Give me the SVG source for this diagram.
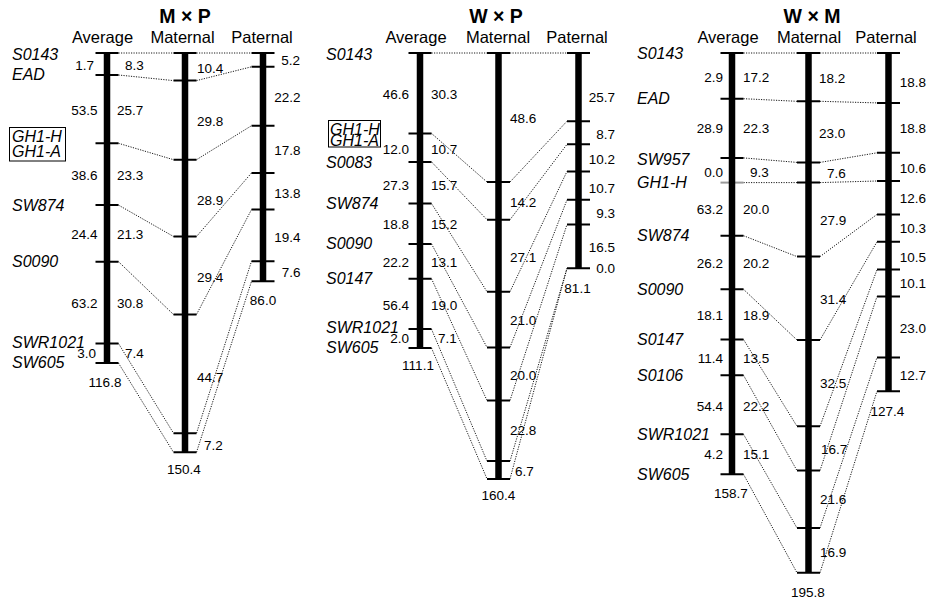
<svg xmlns="http://www.w3.org/2000/svg" width="930" height="602" viewBox="0 0 930 602">
<style>
text{font-family:"Liberation Sans",Arial,sans-serif;fill:#000}
.t{font-size:19.5px;font-weight:bold;text-anchor:middle}
.h{font-size:16.5px;text-anchor:middle}
.m{font-size:16px;font-style:italic}
.n{font-size:13.5px}
.e{text-anchor:end}
.c{text-anchor:middle}
.bar{fill:#000}
.tk{stroke:#000;stroke-width:2;fill:none}
.tkg{stroke:#999;stroke-width:2;fill:none}
.cn{stroke:#000;stroke-width:0.9;stroke-dasharray:1.2 1.3;fill:none}
.box{fill:none;stroke:#000;stroke-width:1}
</style>
<rect width="930" height="602" fill="#fff"/>

<!-- Connectors -->
<g id="connectors">
<path class="cn" d="M118.5 53L173.5 53M196.5 53L251.5 53M118.5 75L173.5 80.6M196.5 80.6L251.5 66.8M118.5 143.3L173.5 159.7M196.5 159.7L251.5 125.7M118.5 205.1L173.5 236.5M196.5 236.5L251.5 173M118.5 261.7L173.5 314.5M196.5 314.5L251.5 209.6M118.5 343.5L173.5 433.2M196.5 433.2L251.5 261.2M118.5 363.1L173.5 452.3M196.5 452.3L251.5 281.3"/>
<path class="cn" d="M431.5 53L487 53M510 53L567 53M431.5 133.4L487 182M510 182L567 121.2M431.5 161.9L487 219.7M510 219.7L567 144.3M431.5 203.5L487 291.7M510 291.7L567 171.4M431.5 243.9L487 347.4M510 347.4L567 199.8M431.5 278.7L487 400.5M510 400.5L567 224.5M431.5 329.1L487 461.1M510 461.1L567 268.3M431.5 348L487 478.9M510 478.9L567 268.3"/>
<path class="cn" d="M743.5 53L797 53M820 53L877 53M743.5 98.7L797 101.3M820 101.3L877 102.9M743.5 157.9L797 162.4M820 162.4L877 152.8M743.5 182.6L797 182.6M820 182.6L877 181M743.5 235.7L797 256.6M820 256.6L877 214.4M743.5 289.3L797 340M820 340L877 241.8M743.5 339.5L797 426.3M820 426.3L877 269.6M743.5 375.3L797 470.6M820 470.6L877 296.5M743.5 434.3L797 528M820 528L877 357.5M743.5 474.3L797 572.8M820 572.8L877 391.2"/>
</g>

<!-- Panel 1: M x P -->
<g id="panel-MxP">
<text class="t" x="185" y="23">M × P</text>
<text class="h" x="102.5" y="43">Average</text>
<text class="h" x="182.5" y="43">Maternal</text>
<text class="h" x="262" y="43">Paternal</text>
<g id="mp-markers">
<text class="m" x="12" y="60">S0143</text>
<text class="m" x="12" y="80">EAD</text>
<rect class="box" x="9.5" y="127.5" width="56" height="33.5"/>
<text class="m" x="12" y="141.5">GH1-H<tspan x="12" y="156.5">GH1-A</tspan></text>
<text class="m" x="12" y="211">SW874</text>
<text class="m" x="12" y="267">S0090</text>
<text class="m" x="12" y="348">SWR1021</text>
<text class="m" x="12" y="368">SW605</text>
</g>
<g id="mp-average">
<rect class="bar" x="103.75" y="53" width="6.5" height="310.1"/>
<path class="tk" d="M95.5 53h23M95.5 75h23M95.5 143.3h23M95.5 205.1h23M95.5 261.7h23M95.5 343.5h23M95.5 363.1h23"/>
<text class="n e" x="94" y="70">1.7</text>
<text class="n e" x="97.5" y="115">53.5</text>
<text class="n e" x="97.5" y="180">38.6</text>
<text class="n e" x="97.5" y="239">24.4</text>
<text class="n e" x="97.5" y="308">63.2</text>
<text class="n e" x="96" y="358">3.0</text>
<text class="n" x="125" y="70">8.3</text>
<text class="n" x="117" y="115">25.7</text>
<text class="n" x="117" y="180">23.3</text>
<text class="n" x="117" y="239">21.3</text>
<text class="n" x="117" y="308">30.8</text>
<text class="n" x="125" y="358">7.4</text>
<text class="n c" x="105" y="387">116.8</text>
</g>
<g id="mp-maternal">
<rect class="bar" x="181.75" y="53" width="6.5" height="399.3"/>
<path class="tk" d="M173.5 53h23M173.5 80.6h23M173.5 159.7h23M173.5 236.5h23M173.5 314.5h23M173.5 433.2h23M173.5 452.3h23"/>
<text class="n" x="197" y="73">10.4</text>
<text class="n" x="197" y="126">29.8</text>
<text class="n" x="197" y="205">28.9</text>
<text class="n" x="197" y="282">29.4</text>
<text class="n" x="197" y="382">44.7</text>
<text class="n" x="204" y="450">7.2</text>
<text class="n c" x="184" y="474">150.4</text>
</g>
<g id="mp-paternal">
<rect class="bar" x="259.75" y="53" width="6.5" height="228.3"/>
<path class="tk" d="M251.5 53h23M251.5 66.8h23M251.5 125.7h23M251.5 173h23M251.5 209.6h23M251.5 261.2h23M251.5 281.3h23"/>
<text class="n e" x="300" y="65">5.2</text>
<text class="n e" x="300.5" y="102">22.2</text>
<text class="n e" x="300.5" y="155">17.8</text>
<text class="n e" x="300.5" y="198">13.8</text>
<text class="n e" x="300.5" y="242">19.4</text>
<text class="n e" x="300.5" y="277">7.6</text>
<text class="n c" x="263" y="305">86.0</text>
</g>
</g>

<!-- Panel 2: W x P -->
<g id="panel-WxP">
<text class="t" x="496" y="23">W × P</text>
<text class="h" x="416" y="43">Average</text>
<text class="h" x="498" y="43">Maternal</text>
<text class="h" x="577" y="43">Paternal</text>
<g id="wp-markers">
<text class="m" x="326" y="60">S0143</text>
<rect class="box" x="328.5" y="120.5" width="52" height="26.5"/>
<text class="m" x="330" y="135">GH1-H<tspan x="330" y="146">GH1-A</tspan></text>
<text class="m" x="326" y="168">S0083</text>
<text class="m" x="326" y="209">SW874</text>
<text class="m" x="326" y="249">S0090</text>
<text class="m" x="326" y="284">S0147</text>
<text class="m" x="326" y="333">SWR1021</text>
<text class="m" x="326" y="353">SW605</text>
</g>
<g id="wp-average">
<rect class="bar" x="416.75" y="53" width="6.5" height="295"/>
<path class="tk" d="M408.5 53h23M408.5 133.4h23M408.5 161.9h23M408.5 203.5h23M408.5 243.9h23M408.5 278.7h23M408.5 329.1h23M408.5 348h23"/>
<text class="n e" x="409" y="98.5">46.6</text>
<text class="n e" x="409" y="154">12.0</text>
<text class="n e" x="409" y="190">27.3</text>
<text class="n e" x="409" y="228.5">18.8</text>
<text class="n e" x="409" y="266.5">22.2</text>
<text class="n e" x="409" y="310">56.4</text>
<text class="n e" x="409" y="343">2.0</text>
<text class="n" x="431" y="98.5">30.3</text>
<text class="n" x="431" y="154">10.7</text>
<text class="n" x="431" y="190">15.7</text>
<text class="n" x="431" y="228.5">15.2</text>
<text class="n" x="431" y="266.5">13.1</text>
<text class="n" x="431" y="310">19.0</text>
<text class="n" x="438" y="343">7.1</text>
<text class="n c" x="418" y="370">111.1</text>
</g>
<g id="wp-maternal">
<rect class="bar" x="495.25" y="53" width="6.5" height="425.9"/>
<path class="tk" d="M487 53h23M487 182h23M487 219.7h23M487 291.7h23M487 347.4h23M487 400.5h23M487 461.1h23M487 478.9h23"/>
<text class="n" x="510" y="123">48.6</text>
<text class="n" x="510" y="207">14.2</text>
<text class="n" x="510" y="261.5">27.1</text>
<text class="n" x="510" y="325">21.0</text>
<text class="n" x="510" y="380">20.0</text>
<text class="n" x="510" y="435">22.8</text>
<text class="n" x="515" y="476">6.7</text>
<text class="n c" x="498.5" y="500">160.4</text>
</g>
<g id="wp-paternal">
<rect class="bar" x="575.25" y="53" width="6.5" height="215.3"/>
<path class="tk" d="M567 53h23M567 121.2h23M567 144.3h23M567 171.4h23M567 199.8h23M567 224.5h23M567 268.3h23"/>
<text class="n e" x="615" y="101.5">25.7</text>
<text class="n e" x="615" y="139">8.7</text>
<text class="n e" x="615" y="164">10.2</text>
<text class="n e" x="615" y="192.5">10.7</text>
<text class="n e" x="615" y="218">9.3</text>
<text class="n e" x="615" y="251.5">16.5</text>
<text class="n e" x="615" y="273">0.0</text>
<text class="n c" x="577.5" y="292.5">81.1</text>
</g>
</g>

<!-- Panel 3: W x M -->
<g id="panel-WxM">
<text class="t" x="812" y="23">W × M</text>
<text class="h" x="728" y="43">Average</text>
<text class="h" x="809" y="43">Maternal</text>
<text class="h" x="886" y="43">Paternal</text>
<g id="wm-markers">
<text class="m" x="637" y="59">S0143</text>
<text class="m" x="637" y="104">EAD</text>
<text class="m" x="637" y="165">SW957</text>
<text class="m" x="637" y="188">GH1-H</text>
<text class="m" x="637" y="241">SW874</text>
<text class="m" x="637" y="295">S0090</text>
<text class="m" x="637" y="345">S0147</text>
<text class="m" x="637" y="381">S0106</text>
<text class="m" x="637" y="440">SWR1021</text>
<text class="m" x="637" y="480">SW605</text>
</g>
<g id="wm-average">
<path class="tkg" d="M720.5 182.6h23"/>
<rect class="bar" x="728.75" y="53" width="6.5" height="421.3"/>
<path class="tk" d="M720.5 53h23M720.5 98.7h23M720.5 157.9h23M720.5 235.7h23M720.5 289.3h23M720.5 339.5h23M720.5 375.3h23M720.5 434.3h23M720.5 474.3h23"/>
<text class="n e" x="723" y="81.5">2.9</text>
<text class="n e" x="723" y="133">28.9</text>
<text class="n e" x="723" y="176.5">0.0</text>
<text class="n e" x="723" y="214">63.2</text>
<text class="n e" x="723" y="268">26.2</text>
<text class="n e" x="723" y="320">18.1</text>
<text class="n e" x="723" y="363">11.4</text>
<text class="n e" x="723" y="410.5">54.4</text>
<text class="n e" x="723" y="459">4.2</text>
<text class="n" x="743" y="81.5">17.2</text>
<text class="n" x="743" y="133">22.3</text>
<text class="n" x="750" y="176.5">9.3</text>
<text class="n" x="743" y="214">20.0</text>
<text class="n" x="743" y="268">20.2</text>
<text class="n" x="743" y="320">18.9</text>
<text class="n" x="743" y="363">13.5</text>
<text class="n" x="743" y="410.5">22.2</text>
<text class="n" x="743" y="459">15.1</text>
<text class="n c" x="731" y="498">158.7</text>
</g>
<g id="wm-maternal">
<rect class="bar" x="805.25" y="53" width="6.5" height="519.8"/>
<path class="tk" d="M797 53h23M797 101.3h23M797 162.4h23M797 182.6h23M797 256.6h23M797 340h23M797 426.3h23M797 470.6h23M797 528h23M797 572.8h23"/>
<text class="n" x="819" y="82.5">18.2</text>
<text class="n" x="819" y="137.5">23.0</text>
<text class="n" x="827" y="177.5">7.6</text>
<text class="n" x="820" y="225">27.9</text>
<text class="n" x="820" y="304">31.4</text>
<text class="n" x="820" y="388">32.5</text>
<text class="n" x="821" y="454">16.7</text>
<text class="n" x="820" y="504">21.6</text>
<text class="n" x="820" y="556.5">16.9</text>
<text class="n c" x="808" y="596.5">195.8</text>
</g>
<g id="wm-paternal">
<rect class="bar" x="885.25" y="53" width="6.5" height="338.2"/>
<path class="tk" d="M877 53h23M877 102.9h23M877 152.8h23M877 181h23M877 214.4h23M877 241.8h23M877 269.6h23M877 296.5h23M877 357.5h23M877 391.2h23"/>
<text class="n e" x="926" y="86.5">18.8</text>
<text class="n e" x="926" y="133">18.8</text>
<text class="n e" x="926" y="172.5">10.6</text>
<text class="n e" x="926" y="203">12.6</text>
<text class="n e" x="926" y="233">10.3</text>
<text class="n e" x="926" y="261.5">10.5</text>
<text class="n e" x="926" y="288">10.1</text>
<text class="n e" x="926" y="333">23.0</text>
<text class="n e" x="926" y="380">12.7</text>
<text class="n c" x="887.5" y="416">127.4</text>
</g>
</g>
</svg>
